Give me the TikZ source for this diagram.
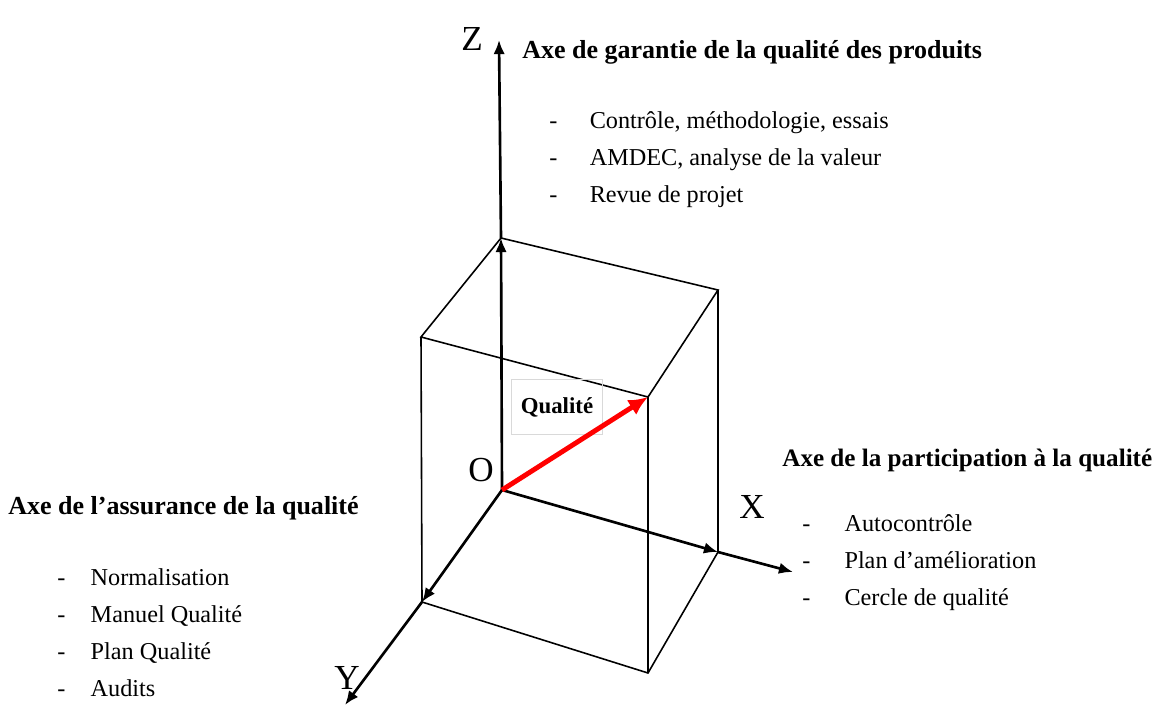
\documentclass[tikz,border=0pt]{standalone}
\usepackage{fontspec}
\setmainfont{Liberation Serif}
\usetikzlibrary{arrows.meta}
\newcommand{\tiret}[1][23pt]{\makebox[#1][l]{-}}

\begin{document}
\begin{tikzpicture}[x=0.02cm,y=-0.02cm,
  axe/.style={line width=1.5pt,-{Latex[length=8pt,width=6.5pt]}},
  arete/.style={line width=0.9pt},
  titre/.style={anchor=west,inner sep=0pt,font=\fontsize{14.8}{17}\bfseries\selectfont},
  liste/.style={anchor=west,inner sep=0pt,align=left,font=\fontsize{13.8}{21}\selectfont},
  lettre/.style={inner sep=0pt,font=\fontsize{20}{24}\selectfont}]
\useasboundingbox (0,0) rectangle (1163,710);
% sommets du cube
\coordinate (O) at (502,490);
\coordinate (A) at (501,238);
\coordinate (B) at (718,290);
\coordinate (C) at (648,397);
\coordinate (D) at (421,337);
\coordinate (E) at (718,552);
\coordinate (F) at (648,673);
\coordinate (G) at (422,602);
% bouts des axes
\coordinate (Zb) at (499,40);
\coordinate (Xb) at (793,572);
\coordinate (Yb) at (345,705);

% cube
\draw[arete] (A)--(B)--(C)--(D)--cycle;
\draw[arete] (D)--(G)--(F)--(E)--(B);
\draw[arete] (C)--(F);

% axes
\draw[axe] (O)--(A); \draw[axe] (A)--(Zb);
\draw[axe] (O)--(E); \draw[axe] (E)--(Xb);
\draw[axe] (O)--(G); \draw[axe] (G)--(Yb);

% vecteur qualite
\node[draw=gray!30,line width=0.6pt,minimum width=52pt,minimum height=31pt,
  font=\fontsize{13}{15}\bfseries\selectfont] (qual) at (557,407) {Qualité};
\draw[red,line width=2.8pt,-{Latex[length=11pt,width=10pt]}] (O)--(C);

% lettres
\node[lettre] (lz) at (472,39) {Z};
\node[lettre] (lo) at (481,470) {O};
\node[lettre] (lx) at (752,507) {X};
\node[lettre] (ly) at (347,678) {Y};

% textes des axes
\node[titre] (tz) at (522,52) {Axe de garantie de la qualité des produits};
\node[liste] (lsz) at (549,160) {\tiret Contrôle, méthodologie, essais\\
  \tiret AMDEC, analyse de la valeur\\ \tiret Revue de projet};

\node[titre,font=\fontsize{14.3}{17}\bfseries\selectfont] (tx) at (782,460)
  {Axe de la participation à la qualité};
\node[liste] (lsx) at (802,563) {\tiret[24pt]Autocontrôle\\
  \tiret[24pt]Plan d’amélioration\\ \tiret[24pt]Cercle de qualité};

\node[titre] (ty) at (8,508) {Axe de l’assurance de la qualité};
\node[liste] (lsy) at (57,633) {\tiret[19pt]Normalisation\\
  \tiret[19pt]Manuel Qualité\\ \tiret[19pt]Plan Qualité\\ \tiret[19pt]Audits};
\end{tikzpicture}
\end{document}
